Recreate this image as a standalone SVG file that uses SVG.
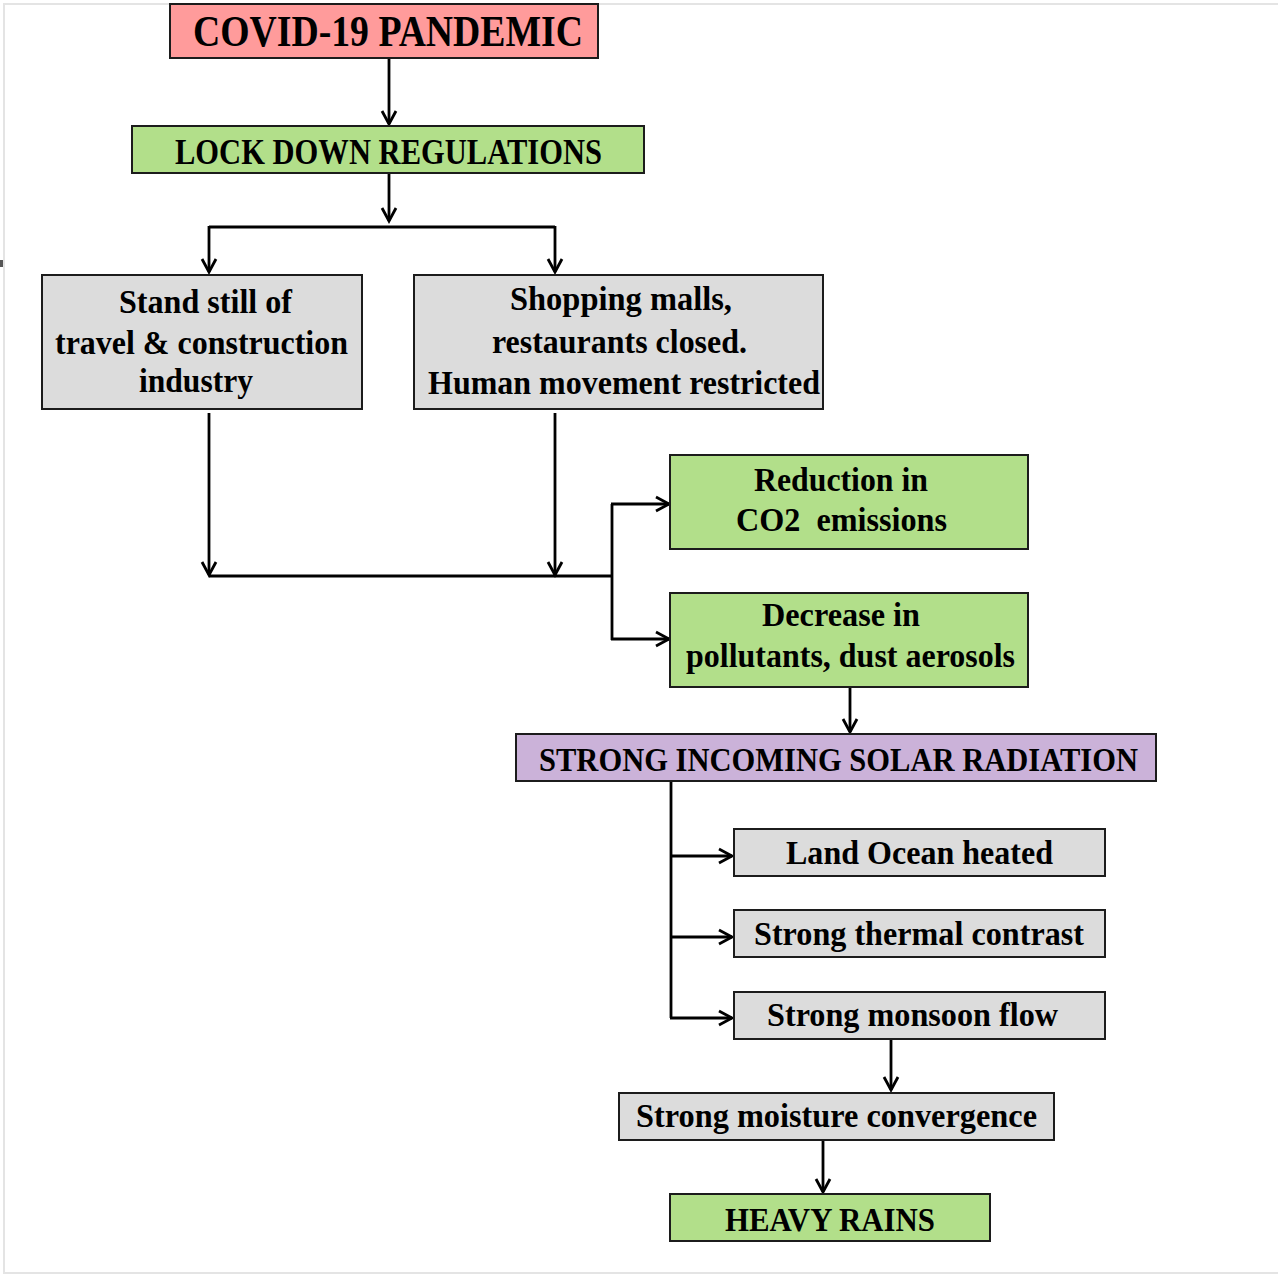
<svg xmlns="http://www.w3.org/2000/svg" width="1278" height="1276" viewBox="0 0 1278 1276">
<defs>
<marker id="ah" markerUnits="userSpaceOnUse" markerWidth="20" markerHeight="20" viewBox="-16 -10 20 20" refX="0" refY="0" orient="auto">
<path d="M-13,-7 L0,0 L-13,7" fill="none" stroke="#000" stroke-width="2.8" stroke-linejoin="miter"/>
</marker>
<style>
.box{stroke:#1c1c1c;stroke-width:2}
.pink{fill:#FF9B9B}
.green{fill:#B2DF8A}
.gray{fill:#DCDCDC}
.purple{fill:#CBB2D9}
text{font-family:"Liberation Serif","Times New Roman",serif;font-weight:bold;fill:#000}
.t44{font-size:44px}
.t35{font-size:35px}
.t33{font-size:33px}
.c{fill:none;stroke:#000;stroke-width:2.8}
</style>
</defs>
<rect x="4" y="4" width="1290" height="1269" fill="#fff" stroke="#e4e4e4" stroke-width="2"/>
<rect x="0" y="260" width="3" height="7" fill="#555"/>

<g id="connectors">
<path class="c" d="M389,58 V124" marker-end="url(#ah)"/>
<path class="c" d="M389,173 V221" marker-end="url(#ah)"/>
<path class="c" d="M209,227 H555"/>
<path class="c" d="M209,226 V272" marker-end="url(#ah)"/>
<path class="c" d="M555,226 V272" marker-end="url(#ah)"/>
<path class="c" d="M209,413 V575" marker-end="url(#ah)"/>
<path class="c" d="M555,413 V575" marker-end="url(#ah)"/>
<path class="c" d="M209,576 H612"/>
<path class="c" d="M612,504 V640"/>
<path class="c" d="M611,504 H669" marker-end="url(#ah)"/>
<path class="c" d="M611,639 H669" marker-end="url(#ah)"/>
<path class="c" d="M850,687 V732" marker-end="url(#ah)"/>
<path class="c" d="M671,782 V1018"/>
<path class="c" d="M670,856 H732" marker-end="url(#ah)"/>
<path class="c" d="M670,937 H732" marker-end="url(#ah)"/>
<path class="c" d="M670,1018 H732" marker-end="url(#ah)"/>
<path class="c" d="M891,1039 V1090" marker-end="url(#ah)"/>
<path class="c" d="M823,1140 V1192" marker-end="url(#ah)"/>
</g>

<g id="covid">
<rect class="box pink" x="170" y="4" width="428" height="54"/>
<text class="t44" x="193" y="46" textLength="390" lengthAdjust="spacingAndGlyphs">COVID-19 PANDEMIC</text>
</g>
<g id="lockdown">
<rect class="box green" x="132" y="126" width="512" height="47"/>
<text class="t35" x="175" y="164" textLength="427" lengthAdjust="spacingAndGlyphs">LOCK DOWN REGULATIONS</text>
</g>
<g id="standstill">
<rect class="box gray" x="42" y="275" width="320" height="134"/>
<text class="t33" x="119" y="313" textLength="173" lengthAdjust="spacingAndGlyphs">Stand still of</text>
<text class="t33" x="55" y="354" textLength="293" lengthAdjust="spacingAndGlyphs">travel &amp; construction</text>
<text class="t33" x="139" y="392" textLength="114" lengthAdjust="spacingAndGlyphs">industry</text>
</g>
<g id="shopping">
<rect class="box gray" x="414" y="275" width="409" height="134"/>
<text class="t33" x="510" y="310" textLength="222" lengthAdjust="spacingAndGlyphs">Shopping malls,</text>
<text class="t33" x="492" y="353" textLength="255" lengthAdjust="spacingAndGlyphs">restaurants closed.</text>
<text class="t33" x="428" y="394" textLength="392" lengthAdjust="spacingAndGlyphs">Human movement restricted</text>
</g>
<g id="co2">
<rect class="box green" x="670" y="455" width="358" height="94"/>
<text class="t33" x="754" y="491" textLength="174" lengthAdjust="spacingAndGlyphs">Reduction in</text>
<text class="t33" x="736" y="531" textLength="211" lengthAdjust="spacingAndGlyphs" xml:space="preserve">CO2  emissions</text>
</g>
<g id="pollutants">
<rect class="box green" x="670" y="593" width="358" height="94"/>
<text class="t33" x="762" y="626" textLength="158" lengthAdjust="spacingAndGlyphs">Decrease in</text>
<text class="t33" x="686" y="667" textLength="329" lengthAdjust="spacingAndGlyphs">pollutants, dust aerosols</text>
</g>
<g id="solar">
<rect class="box purple" x="516" y="734" width="640" height="47"/>
<text class="t33" x="539" y="771" textLength="599" lengthAdjust="spacingAndGlyphs">STRONG INCOMING SOLAR RADIATION</text>
</g>
<g id="landocean">
<rect class="box gray" x="734" y="829" width="371" height="47"/>
<text class="t33" x="786" y="864" textLength="267" lengthAdjust="spacingAndGlyphs">Land Ocean heated</text>
</g>
<g id="thermal">
<rect class="box gray" x="734" y="910" width="371" height="47"/>
<text class="t33" x="754" y="945" textLength="330" lengthAdjust="spacingAndGlyphs">Strong thermal contrast</text>
</g>
<g id="monsoon">
<rect class="box gray" x="734" y="992" width="371" height="47"/>
<text class="t33" x="767" y="1026" textLength="291" lengthAdjust="spacingAndGlyphs">Strong monsoon flow</text>
</g>
<g id="moisture">
<rect class="box gray" x="619" y="1093" width="435" height="47"/>
<text class="t33" x="636" y="1127" textLength="401" lengthAdjust="spacingAndGlyphs">Strong moisture convergence</text>
</g>
<g id="rains">
<rect class="box green" x="670" y="1194" width="320" height="47"/>
<text class="t33" x="725" y="1231" textLength="210" lengthAdjust="spacingAndGlyphs">HEAVY RAINS</text>
</g>
</svg>
